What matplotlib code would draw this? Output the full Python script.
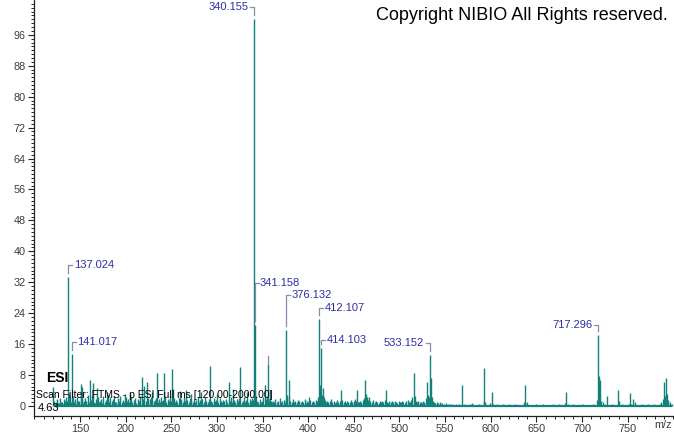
import matplotlib
matplotlib.use('Agg')
import matplotlib.pyplot as plt
from matplotlib.ticker import MultipleLocator, FixedLocator

plt.rcParams['font.family'] = ['Liberation Sans', 'DejaVu Sans']

# main peaks (m/z, relative abundance)
peak_mz = [120.7, 137.024, 141.017, 150.7, 152.0, 161.0, 164.0, 169.0, 179.0,
           199.0, 205.0, 217.6, 220.5, 223.0, 229.0, 234.0, 242.0, 250.5, 251.5,
           259.0, 266.0, 272.0, 283.0, 292.5, 300.0, 312.7, 318.0, 325.4, 333.0,
           340.155, 341.158, 342.2, 352.5, 356.1, 358.0, 376.132, 378.4, 401.0,
           412.107, 413.1, 414.103, 416.0, 436.0, 453.0, 462.6, 485.0, 515.5,
           530.0, 533.152, 534.5, 569.0, 593.0, 601.0, 637.6, 682.6, 717.296,
           718.3, 720.0, 727.5, 739.0, 753.0, 789.6, 792.0, 793.0]
peak_int = [5.0, 33.3, 13.4, 5.7, 5.0, 6.7, 6.0, 4.6, 3.7,
            3.0, 3.3, 7.6, 5.2, 6.3, 3.5, 8.4, 8.4, 9.6, 4.5,
            3.8, 4.2, 3.0, 3.5, 10.3, 3.2, 6.3, 4.3, 10.1, 3.6,
            100.0, 20.9, 4.0, 5.4, 10.8, 4.1, 19.6, 6.7, 2.4,
            22.6, 5.5, 14.9, 4.6, 4.1, 4.1, 6.8, 4.0, 8.5,
            6.3, 13.2, 7.1, 5.5, 9.7, 3.7, 5.4, 3.7, 18.3,
            7.8, 6.7, 2.6, 4.1, 3.4, 6.2, 7.1, 3.2]

# low-level noise peaks
noise_mz = [121.0, 122.4, 123.1, 124.2, 125.0, 126.3, 126.9, 128.1, 129.2, 130.0,
            131.3, 132.1, 133.2, 133.9, 135.0, 136.0, 138.0, 139.1, 140.2, 142.0,
            143.0, 144.1, 144.9, 146.1, 147.0, 148.2, 149.0, 151.0, 151.9, 153.0,
            154.1, 155.1, 156.2, 157.0, 158.9, 160.1, 162.0, 163.0, 165.1, 166.0,
            166.9, 168.0, 170.1, 171.0, 171.9, 173.0, 174.2, 175.1, 176.9, 178.0,
            180.1, 181.0, 182.2, 183.0, 184.9, 186.1, 187.0, 188.2, 189.1, 191.0,
            192.9, 194.1, 195.9, 197.0, 198.1, 200.1, 201.2, 202.9, 204.0, 206.2,
            207.1, 208.9, 210.0, 211.2, 213.0, 214.1, 215.9, 218.9, 221.8, 224.9,
            226.1, 227.0, 228.1, 230.9, 232.0, 233.1, 235.0, 236.2, 237.9, 239.1,
            240.2, 241.1, 243.0, 244.1, 245.9, 247.0, 248.2, 249.1, 252.9, 254.1,
            255.0, 256.2, 257.9, 260.1, 261.0, 262.9, 264.1, 265.0, 267.1, 268.9,
            270.1, 271.0, 273.2, 274.9, 276.0, 277.1, 279.0, 280.2, 281.1, 282.0,
            284.1, 285.9, 287.0, 288.2, 289.9, 291.1, 293.9, 295.0, 296.2, 297.9,
            299.0, 301.1, 302.9, 304.0, 305.2, 307.0, 308.1, 309.9, 311.0, 314.0,
            315.1, 316.9, 319.2, 320.1, 321.9, 323.0, 324.1, 327.0, 328.2, 329.9,
            331.1, 332.0, 334.2, 335.9, 337.0, 338.2, 339.1, 343.1, 344.0, 345.2,
            346.9, 348.1, 349.0, 350.9, 353.9, 355.0, 357.1, 359.0, 360.2, 361.9,
            363.0, 364.1, 366.0, 367.2, 368.9, 370.0, 371.1, 372.9, 374.0, 375.1,
            377.1, 379.3, 380.1, 382.0, 383.1, 384.9, 386.0, 387.2, 389.0, 390.1,
            391.9, 393.0, 394.2, 396.0, 397.1, 398.9, 400.0, 402.1, 403.9, 405.0,
            406.1, 408.0, 409.1, 410.9, 415.0, 417.1, 418.0, 419.2, 421.0, 422.1,
            423.9, 425.0, 426.1, 428.0, 429.2, 430.9, 432.0, 433.1, 435.0, 437.1,
            438.9, 440.0, 441.2, 443.0, 444.1, 445.9, 447.0, 448.2, 450.0, 451.1,
            452.0, 454.1, 455.9, 457.0, 458.2, 460.0, 461.1, 463.6, 464.5, 465.9,
            467.0, 468.2, 470.0, 471.1, 472.9, 474.0, 475.2, 477.0, 478.1, 479.9,
            481.0, 482.2, 484.0, 486.1, 487.9, 489.0, 490.2, 492.0, 493.1, 494.9,
            496.0, 497.2, 499.0, 500.1, 501.9, 503.0, 504.2, 506.0, 507.1, 508.9,
            510.0, 511.2, 513.0, 514.1, 516.6, 517.9, 519.0, 520.2, 522.0, 523.1,
            524.9, 526.0, 527.2, 529.0, 531.1, 532.0, 535.6, 536.9, 538.0, 539.2,
            541.0, 542.1, 544.0, 545.2, 547.0, 549.1, 551.0, 552.9, 555.1, 557.0,
            559.2, 562.0, 565.1, 567.9, 570.2, 574.0, 577.1, 580.0, 583.2, 586.9,
            590.0, 592.1, 594.2, 596.0, 599.1, 602.2, 604.0, 606.9, 610.1, 613.0,
            616.2, 620.0, 623.1, 626.9, 630.0, 634.1, 636.2, 638.9, 640.1, 643.0,
            646.9, 650.1, 654.0, 657.2, 661.0, 664.1, 668.0, 671.2, 675.0, 678.1,
            681.0, 684.1, 686.9, 690.0, 694.2, 698.0, 701.1, 705.0, 708.2, 712.0,
            715.1, 716.3, 719.1, 721.2, 723.0, 725.1, 730.0, 733.2, 736.9, 741.0,
            744.1, 747.9, 751.0, 754.2, 756.0, 758.1, 762.0, 765.2, 769.0, 772.1,
            776.0, 779.2, 782.0, 785.1, 787.0, 788.2, 790.7, 794.1, 796.0, 798.2]
noise_int = [1.2, 0.6, 0.8, 1.9, 1.5, 0.7, 0.7, 2.1, 1.1, 1.0,
             0.6, 1.8, 1.2, 0.6, 2.4, 1.3, 3.1, 2.2, 1.0, 2.6,
             1.1, 0.7, 1.9, 0.9, 2.3, 1.2, 1.4, 2.0, 1.7, 0.8,
             1.3, 2.0, 0.9, 1.2, 2.8, 1.0, 1.6, 2.5, 1.1, 0.7,
             1.9, 0.9, 2.2, 1.0, 1.3, 1.8, 0.8, 2.6, 1.0, 1.5,
             2.9, 1.7, 1.1, 2.3, 1.2, 1.8, 2.7, 0.9, 1.1, 2.0,
             1.4, 2.5, 0.9, 1.6, 1.0, 2.2, 1.3, 1.8, 0.9, 2.4,
             1.1, 1.5, 2.0, 0.8, 1.7, 1.2, 2.6, 1.9, 1.4, 2.1,
             1.0, 1.8, 2.3, 1.2, 1.6, 2.0, 1.1, 1.7, 1.0, 2.4,
             1.3, 1.6, 2.2, 0.9, 1.8, 1.2, 2.5, 1.4, 2.0, 1.1,
             1.6, 0.9, 2.1, 1.3, 1.7, 1.0, 2.3, 1.2, 1.5, 0.9,
             2.0, 1.3, 1.1, 1.8, 0.9, 1.5, 2.2, 1.0, 1.6, 1.2,
             1.9, 1.0, 2.4, 1.3, 1.1, 1.7, 1.4, 0.9, 2.0, 1.2,
             1.5, 1.0, 2.1, 1.3, 0.9, 1.6, 1.2, 1.9, 1.0, 1.4,
             2.2, 1.1, 1.5, 0.9, 1.8, 1.2, 2.0, 1.0, 1.4, 2.3,
             1.1, 1.6, 0.9, 1.8, 1.3, 2.1, 1.5, 2.6, 1.4, 1.1,
             1.7, 0.9, 1.3, 2.2, 1.8, 2.5, 1.6, 1.2, 0.9, 1.4,
             1.1, 1.7, 0.9, 1.3, 2.0, 1.0, 1.2, 1.5, 0.9, 1.8,
             2.9, 2.2, 1.4, 1.1, 1.7, 0.9, 1.3, 1.0, 1.6, 1.2,
             0.9, 1.4, 1.1, 1.7, 0.8, 1.2, 1.0, 1.5, 0.9, 1.3,
             1.0, 1.6, 1.2, 2.3, 2.8, 2.2, 1.5, 1.1, 1.4, 0.9,
             1.2, 1.7, 1.0, 1.3, 0.8, 1.1, 1.5, 0.9, 1.2, 1.6,
             1.0, 1.3, 0.8, 1.4, 1.1, 0.9, 1.5, 1.0, 1.2, 1.8,
             1.4, 1.1, 0.9, 1.3, 1.0, 1.6, 2.0, 3.0, 2.2, 1.6,
             2.4, 1.2, 1.0, 1.5, 0.9, 1.3, 1.1, 0.8, 1.4, 1.0,
             1.2, 0.9, 1.5, 1.1, 0.8, 1.3, 1.0, 1.4, 0.9, 1.2,
             1.0, 0.8, 1.3, 1.1, 0.9, 1.4, 1.0, 0.8, 1.2, 1.5,
             0.9, 1.1, 1.6, 2.2, 2.6, 1.4, 1.0, 1.3, 0.9, 1.1,
             0.8, 1.2, 1.0, 2.0, 2.8, 2.4, 2.2, 1.4, 1.0, 0.8,
             1.1, 0.7, 0.9, 0.6, 0.8, 0.5, 0.7, 0.6, 0.4, 0.5,
             0.3, 0.6, 0.4, 0.3, 0.5, 0.3, 0.4, 0.8, 0.3, 0.4,
             0.3, 1.2, 0.9, 0.3, 0.8, 0.6, 0.3, 0.4, 0.3, 0.5,
             0.3, 0.4, 0.3, 0.6, 0.3, 0.3, 1.1, 0.4, 0.9, 0.3,
             0.3, 0.5, 0.3, 0.4, 0.3, 0.3, 0.5, 0.3, 0.4, 0.3,
             0.8, 0.6, 0.3, 0.4, 0.3, 0.3, 0.5, 0.3, 0.3, 0.4,
             0.3, 1.5, 2.2, 1.4, 1.0, 0.6, 0.3, 0.4, 0.3, 1.2,
             0.4, 0.3, 0.5, 0.6, 1.8, 0.9, 0.3, 0.4, 0.3, 0.5,
             0.3, 0.4, 0.3, 0.5, 1.0, 1.8, 2.5, 1.6, 0.9, 0.6]

# labelled peaks
label_mz = [137.024, 141.017, 340.155, 341.158, 376.132, 412.107, 414.103, 533.152, 717.296]
label_text = ['137.024', '141.017', '340.155', '341.158', '376.132', '412.107', '414.103', '533.152', '717.296']
label_side = [1, 1, -1, 1, 1, 1, 1, -1, -1]
label_lift = [12, 12, 12, 42, 35, 11, 8, 12, 10]   # pixels above peak top
marker_mz = [356.1]                                 # flagged peak without label

x_ticks = [150, 200, 250, 300, 350, 400, 450, 500, 550, 600, 650, 700, 750]
y_ticks = [0, 8, 16, 24, 32, 40, 48, 56, 64, 72, 80, 88, 96]

teal = '#14807b'
lab_col = '#2e2ea4'
brk_col = '#8a8aac'
tick_col = '#3c3c3c'

fig = plt.figure(figsize=(6.74, 4.34), dpi=100)
ax = fig.add_axes([34 / 674, 18 / 434, 640 / 674, 416 / 434])
ax.set_xlim(99.5, 800.8)
ax.set_ylim(-2.6, 105.0)

# spectrum
ax.vlines(noise_mz, 0, noise_int, color=teal, lw=1.0)
ax.vlines(peak_mz, 0, peak_int, color=teal, lw=1.0)
ax.plot([min(noise_mz), max(noise_mz)], [0, 0], color=teal, lw=1.6, solid_capstyle='butt')

# pixel -> data scale
px = ax.bbox.width / (800.8 - 99.5)
py = ax.bbox.height / (105.0 + 2.6)

for m, t, s, lift in zip(label_mz, label_text, label_side, label_lift):
    h = peak_int[peak_mz.index(m)]
    yl = h + lift / py
    ax.plot([m, m, m + s * 4 / px], [h + 4 / py, yl, yl], color=brk_col, lw=0.9)
    ax.text(m + s * 5.5 / px, yl, t, color=lab_col, fontsize=8,
            ha='left' if s > 0 else 'right', va='center')

for m in marker_mz:
    h = peak_int[peak_mz.index(m)]
    ax.plot([m, m], [h + 1.5 / py, h + 8 / py], color=brk_col, lw=0.9)

# axes styling
for sp in ['top', 'right']:
    ax.spines[sp].set_visible(False)
for sp in ['left', 'bottom']:
    ax.spines[sp].set_color('#222222')
    ax.spines[sp].set_linewidth(0.9)
ax.xaxis.set_major_locator(FixedLocator(x_ticks))
ax.xaxis.set_minor_locator(MultipleLocator(10))
ax.yaxis.set_major_locator(FixedLocator(y_ticks))
ax.yaxis.set_minor_locator(FixedLocator(list(range(0, 105))))
ax.tick_params(which='major', length=4, width=0.8, color='#222222',
               labelsize=7.8, labelcolor=tick_col, pad=2)
ax.tick_params(which='minor', length=2.2, width=0.7, color='#222222')
ax.text(0.983, -0.022, 'm/z', transform=ax.transAxes, fontsize=7.8,
        color=tick_col, ha='center', va='center')

# annotations
fig.text(668 / 674, 1 - 15 / 434, 'Copyright NIBIO All Rights reserved.',
         fontsize=13, ha='right', va='center', color='black')
fig.text(46 / 674, 1 - 378 / 434, 'ESI', fontsize=10, fontweight='bold',
         ha='left', va='center', color='black')
fig.text(36 / 674, 1 - 395 / 434, 'Scan Filter: FTMS - p ESI Full ms [120.00-2000.00]',
         fontsize=7.5, ha='left', va='center', color='black')
fig.text(38 / 674, 1 - 408 / 434, '4.63', fontsize=8, ha='left', va='center', color='black')

fig.savefig('out.png', dpi=100)
